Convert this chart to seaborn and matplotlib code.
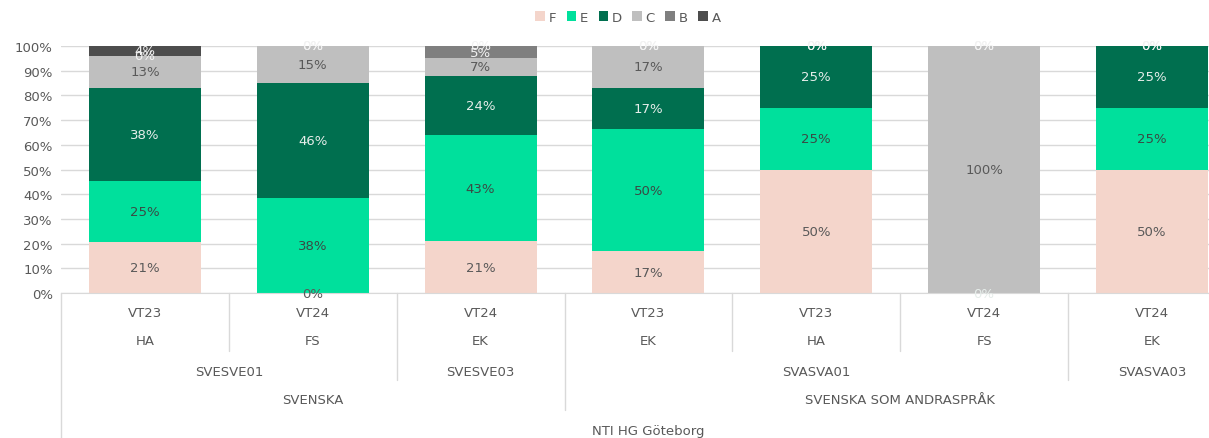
import matplotlib.pyplot as plt
import pandas as pd
import seaborn as sns
import numpy as np
from itertools import groupby
from matplotlib.patches import Patch

### Data (percent per grade, None = empty cell, no label)
grades = ["F", "E", "D", "C", "B", "A"]
terms = ["VT23", "VT24", "VT24", "VT23", "VT23", "VT24", "VT24"]
teachers = ["HA", "FS", "EK", "EK", "HA", "FS", "EK"]
courses = ["SVESVE01", "SVESVE01", "SVESVE03", "SVASVA01", "SVASVA01", "SVASVA01", "SVASVA03"]
subjects = ["SVENSKA", "SVENSKA", "SVENSKA", "SVENSKA SOM ANDRASPRÅK",
            "SVENSKA SOM ANDRASPRÅK", "SVENSKA SOM ANDRASPRÅK", "SVENSKA SOM ANDRASPRÅK"]
schools = ["NTI HG Göteborg"] * 7

F = [21, 0, 21, 17, 50, None, 50]
E = [25, 38, 43, 50, 25, None, 25]
D = [38, 46, 24, 17, 25, 0, 25]
C = [13, 15, 7, 17, None, 100, None]
B = [0, 0, 5, 0, 0, 0, 0]
A = [4, 0, 0, 0, 0, 0, 0]

colors = {"F": "#F4D5CB", "E": "#00E09C", "D": "#006F4F",
          "C": "#BFBFBF", "B": "#7F7F7F", "A": "#4D4D4D"}
label_colors = {"F": "#595959", "E": "#3A4A44", "D": "#E6EDEA",
                "C": "#595959", "B": "#F2F2F2", "A": "#F2F2F2"}
text_col = "#595959"
line_col = "#D9D9D9"

table = pd.DataFrame({"F": F, "E": E, "D": D, "C": C, "B": B, "A": A}, dtype=float)
long = table.reset_index().melt(id_vars="index", var_name="grade", value_name="value")
long["value"] = long["value"].fillna(0)

sns.set_style("white")
plt.rcParams["font.family"] = ["DejaVu Sans"]

fig = plt.figure(figsize=(12.09, 4.39), dpi=100)
ax = fig.add_axes([61 / 1209, 145 / 439, 1148 / 1209, 247 / 439])

# 100% stacked bars, F at the bottom
sns.histplot(data=long, x="index", hue="grade", weights="value", discrete=True,
             multiple="fill", shrink=0.667, hue_order=grades[::-1], palette=colors,
             alpha=1, linewidth=0, legend=False, ax=ax)

### value labels
for i in range(len(table)):
    row = table.iloc[i]
    total = row.fillna(0).sum()
    cum = 0
    for g in grades:
        v = row[g]
        if pd.isna(v):
            continue
        ax.text(i, (cum + v / 2) / total, f"{v:.0f}%", ha="center", va="center",
                fontsize=9.5, color=label_colors[g])
        cum += v

ax.set_xlim(-0.5, 6.34)
ax.set_ylim(0, 1)
ax.set_yticks(np.arange(0, 1.01, 0.1))
ax.set_yticklabels([f"{t}%" for t in range(0, 101, 10)], color=text_col, fontsize=9.5)
ax.yaxis.grid(True, color=line_col, lw=1)
ax.set_axisbelow(True)
ax.tick_params(axis="both", length=0, pad=6)
ax.set_xticks([])
ax.set_xlabel("")
ax.set_ylabel("")
for s in ["top", "right", "left"]:
    ax.spines[s].set_visible(False)
ax.spines["bottom"].set_color(line_col)

### multi-level category axis (inner -> outer)
trans = ax.get_xaxis_transform()
levels = [terms, teachers, courses, subjects, schools]
row_y = [-0.077, -0.194, -0.316, -0.433, -0.555]
for k, y in enumerate(row_y):
    keys = list(zip(*levels[k:]))
    start = 0
    for key, grp in groupby(keys):
        n = len(list(grp))
        ax.text(start + (n - 1) / 2, y, key[0], transform=trans, ha="center", va="center",
                fontsize=9.5, color=text_col, clip_on=False)
        start += n

ends = [-0.235, -0.352, -0.474, -0.6]
ax.plot([-0.5, -0.5], [0, ends[3]], transform=trans, color=line_col, lw=1, clip_on=False)
for i in range(len(terms) - 1):
    if subjects[i] != subjects[i + 1]:
        y_end = ends[2]
    elif courses[i] != courses[i + 1]:
        y_end = ends[1]
    else:
        y_end = ends[0]
    ax.plot([i + 0.5, i + 0.5], [0, y_end], transform=trans, color=line_col, lw=1, clip_on=False)

### legend
handles = [Patch(facecolor=colors[g], edgecolor="none") for g in grades]
fig.legend(handles, grades, loc="center", bbox_to_anchor=(628 / 1209, 1 - 18 / 439),
           ncol=6, frameon=False, handlelength=0.7, handleheight=0.7, handletextpad=0.3,
           columnspacing=0.8, fontsize=9.5, labelcolor=text_col)

fig.savefig("out.png", dpi=100)
